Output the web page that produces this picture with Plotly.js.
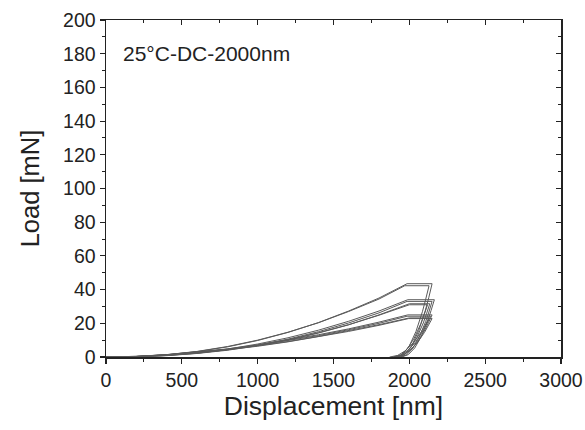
<!DOCTYPE html>
<html>
<head>
<meta charset="utf-8">
<script src="https://cdn.plot.ly/plotly-3.0.1.min.js"></script>
<style>html,body{margin:0;padding:0;background:#fff;}#chart{width:585px;height:430px;}</style>
</head>
<body>
<div id="chart"></div>
<script>
// Displacement [nm] and Load [mN] for each indentation curve (load - hold - unload)
const disp1 = [0,200,400,600,800,1000,1200,1400,1600,1800,1985,2150,2128,2106,2062,2018,1974,1930];
const load1 = [0,0.3,1.3,3.2,6.0,9.8,14.6,20.4,27.3,35.0,43.5,43.5,35.2,27.8,15.7,7.0,1.7,0];
const disp2 = [0,200,400,600,800,1000,1200,1400,1600,1800,1970,2130,2108,2087,2044,2001,1958,1915];
const load2 = [0,0.3,1.4,3.3,6.2,10.0,14.7,20.3,27.0,34.4,42.3,42.3,34.3,27.1,15.2,6.8,1.7,0];
const disp3 = [0,200,400,600,800,1000,1200,1400,1600,1800,1990,2165,2143,2122,2079,2036,1993,1950];
const load3 = [0,0.2,1.0,2.5,4.7,7.7,11.4,15.9,21.2,27.3,34.0,34.0,27.5,21.8,12.2,5.4,1.4,0];
const disp4 = [0,200,400,600,800,1000,1200,1400,1600,1800,1985,2150,2129,2108,2066,2024,1982,1940];
const load4 = [0,0.2,0.9,2.2,4.3,7.1,10.6,15.0,20.2,26.2,33.0,33.0,26.7,21.1,11.9,5.3,1.3,0];
const disp5 = [0,200,400,600,800,1000,1200,1400,1600,1800,2000,2135,2113,2092,2049,2006,1963,1920];
const load5 = [0,0.1,0.8,2.1,4.0,6.7,10.0,14.2,19.1,25.0,31.6,31.6,25.6,20.2,11.4,5.1,1.3,0];
const disp6 = [0,200,400,600,800,1000,1200,1400,1600,1800,2000,2120,2098,2076,2032,1988,1944,1900];
const load6 = [0,0.2,0.9,2.3,4.3,7.0,10.3,14.4,19.2,24.8,31.0,31.0,25.1,19.8,11.2,5.0,1.2,0];
const disp7 = [0,200,400,600,800,1000,1200,1400,1600,1800,1990,2150,2126,2102,2054,2006,1958,1910];
const load7 = [0,0.4,1.4,2.9,4.8,7.2,10.0,13.2,16.7,20.7,25.0,25.0,20.3,16.0,9.0,4.0,1.0,0];
const disp8 = [0,200,400,600,800,1000,1200,1400,1600,1800,1985,2140,2115,2090,2040,1990,1940,1890];
const load8 = [0,0.3,1.2,2.7,4.6,6.9,9.6,12.7,16.2,20.0,24.2,24.2,19.6,15.5,8.7,3.9,1.0,0];
const disp9 = [0,200,400,600,800,1000,1200,1400,1600,1800,2000,2130,2104,2078,2026,1974,1922,1870];
const load9 = [0,0.4,1.3,2.7,4.5,6.7,9.2,12.2,15.5,19.2,23.2,23.2,18.8,14.8,8.4,3.7,0.9,0];
const disp10 = [0,200,400,600,800,1000,1200,1400,1600,1800,1995,2150,2125,2100,2050,2000,1950,1900];
const load10 = [0,0.3,1.2,2.5,4.3,6.4,9.0,11.9,15.2,18.8,22.8,22.8,18.5,14.6,8.2,3.6,0.9,0];

const xTickVals = [0,500,1000,1500,2000,2500,3000];
const yTickVals = [0,20,40,60,80,100,120,140,160,180,200];
const labelText = '25°C-DC-2000nm';

const allDisp = [disp1,disp2,disp3,disp4,disp5,disp6,disp7,disp8,disp9,disp10];
const allLoad = [load1,load2,load3,load4,load5,load6,load7,load8,load9,load10];

const traces = allDisp.map((d,i) => ({
  x: d, y: allLoad[i], type: 'scatter', mode: 'lines',
  line: {color: '#5a5a5a', width: 1},
  showlegend: false, hoverinfo: 'skip'
}));
traces.push({x: [null], y: [null], xaxis: 'x2', yaxis: 'y2', type: 'scatter', mode: 'lines', showlegend: false, hoverinfo: 'skip'});

const font = 'Arial, "Liberation Sans", sans-serif';
const axBase = {
  showgrid: false, zeroline: false, showline: true, linecolor: '#222', linewidth: 1.5,
  tickcolor: '#222', tickwidth: 1.2, ticklen: 5,
  tickfont: {family: font, size: 19.5, color: '#222'}
};

const layout = {
  width: 585, height: 430,
  margin: {l: 106, r: 24, t: 20, b: 73},
  paper_bgcolor: '#fff', plot_bgcolor: '#fff',
  font: {family: font, color: '#222'},
  xaxis: Object.assign({}, axBase, {
    range: [0, 3000], tickvals: xTickVals, ticks: 'outside',
    minor: {ticks: 'outside', dtick: 250, ticklen: 3, tickcolor: '#222', tickwidth: 1},
    title: {text: 'Displacement [nm]', font: {family: font, size: 26.5, color: '#222'}, standoff: 6}
  }),
  yaxis: Object.assign({}, axBase, {
    range: [0, 200], tickvals: yTickVals, ticks: 'outside',
    minor: {ticks: 'outside', dtick: 10, ticklen: 3, tickcolor: '#222', tickwidth: 1},
    title: {text: 'Load [mN]', font: {family: font, size: 25.5, color: '#222'}, standoff: 16}
  }),
  xaxis2: Object.assign({}, axBase, {
    overlaying: 'x', side: 'top', anchor: 'y2', range: [0, 3000], tickvals: xTickVals,
    ticks: 'inside', showticklabels: false,
    minor: {ticks: 'inside', dtick: 250, ticklen: 3, tickcolor: '#222', tickwidth: 1}
  }),
  yaxis2: Object.assign({}, axBase, {
    overlaying: 'y', side: 'right', anchor: 'x2', range: [0, 200], tickvals: yTickVals,
    ticks: 'inside', showticklabels: false,
    minor: {ticks: 'inside', dtick: 10, ticklen: 3, tickcolor: '#222', tickwidth: 1}
  }),
  annotations: [{
    text: labelText, xref: 'paper', yref: 'paper', x: 0.033, y: 0.9,
    xanchor: 'left', yanchor: 'middle', showarrow: false,
    font: {family: font, size: 21, color: '#222'}
  }]
};

Plotly.newPlot('chart', traces, layout, {staticPlot: true, displayModeBar: false});
</script>
</body>
</html>
